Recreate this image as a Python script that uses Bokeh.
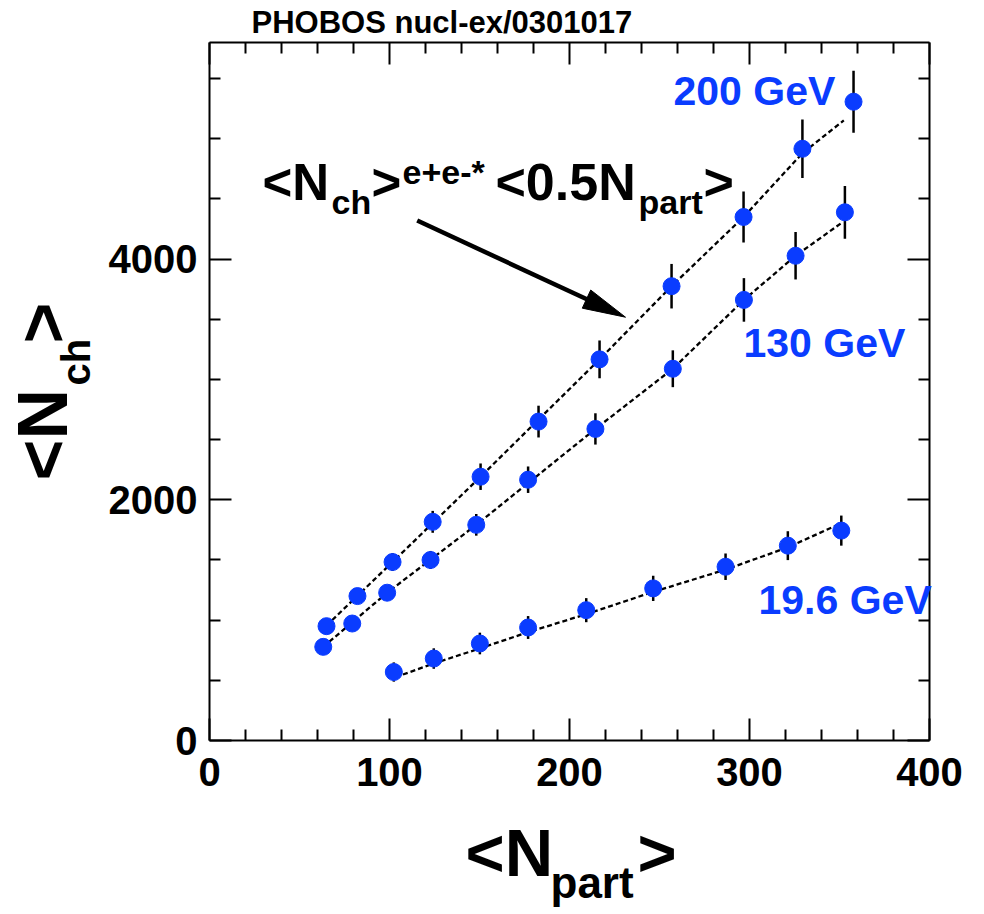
import numpy as np
from bokeh.plotting import figure
from bokeh.models import (Range1d, LinearAxis, FixedTicker, Label,
                          CustomJSTickFormatter)
from bokeh.embed import file_html
from bokeh.resources import INLINE

# ---------------- data ----------------
npart_200 = [65.0, 82.2, 101.7, 124.0, 150.6, 182.8, 216.7, 256.7, 296.7, 329.4, 357.8]
nch_200 = [950, 1200, 1483, 1817, 2192, 2650, 3167, 3775, 4350, 4917, 5308]
err_200 = [48, 60, 74, 91, 110, 132, 157, 185, 212, 243, 257]

npart_130 = [63.2, 79.3, 98.7, 122.8, 148.2, 177.0, 214.4, 257.4, 296.9, 325.6, 353.0]
nch_130 = [778, 972, 1228, 1500, 1792, 2167, 2589, 3089, 3661, 4028, 4389]
err_130 = [40, 50, 62, 75, 90, 110, 130, 153, 181, 197, 219]

npart_196 = [102.4, 124.6, 150.2, 177.0, 209.3, 246.5, 286.7, 321.3, 351.0]
nch_196 = [569, 681, 806, 939, 1083, 1264, 1444, 1619, 1744]
err_196 = [80, 85, 90, 95, 100, 105, 110, 120, 125]

# dashed scaling curves  <Nch>e+e- * <0.5 Npart>
curve_200_x = [65.0, 101.7, 150.6, 216.7, 256.7, 296.7, 329.4, 352.4]
curve_200_y = [955, 1483, 2192, 3167, 3775, 4350, 4880, 5153]
curve_130_x = [63.2, 98.7, 148.2, 214.4, 257.4, 296.9, 325.6, 350.6]
curve_130_y = [778, 1228, 1792, 2589, 3089, 3661, 4028, 4295]
curve_196_x = [103.3, 124.6, 150.2, 177.0, 209.3, 246.5, 286.7, 321.3, 348.7]
curve_196_y = [526, 640, 765, 900, 1050, 1235, 1420, 1605, 1790]

x_major = [0, 100, 200, 300, 400]
x_minor = [20, 40, 60, 80, 120, 140, 160, 180, 220, 240, 260, 280, 320, 340, 360, 380]
y_major = [0, 2000, 4000]
y_minor = [500, 1000, 1500, 2500, 3000, 3500, 4500, 5000, 5500]

X_END, Y_END = 400, 5800
BLUE = "#0a3cff"
FONT = "Liberation Sans"

# ---------------- layout ----------------
W, H = 984, 914
X0_PX, Y0_PX = 209, 740            # canvas pixel of data origin
SX = 720 / X_END                    # px per unit
SY = 698 / Y_END

p = figure(width=W, height=H,
           x_range=Range1d(-X0_PX / SX, (W - X0_PX) / SX),
           y_range=Range1d((Y0_PX - H) / SY, Y0_PX / SY),
           output_backend="svg", toolbar_location=None,
           min_border=0, min_border_left=0, min_border_right=0,
           min_border_top=0, min_border_bottom=0,
           background_fill_color="white", border_fill_color="white")
p.title.visible = False
p.xgrid.visible = False
p.ygrid.visible = False
p.outline_line_color = None


def px2x(px):
    return (px - X0_PX) / SX


def py2y(py):
    return (Y0_PX - py) / SY


def style_axis(ax, major, minor, loc, bounds, labels=True, standoff=10):
    ax.fixed_location = loc
    ax.bounds = bounds
    ax.ticker = FixedTicker(ticks=major, minor_ticks=minor)
    ax.axis_line_color = "black"
    ax.axis_line_width = 2
    ax.major_tick_line_color = "black"
    ax.major_tick_line_width = 2
    ax.minor_tick_line_color = "black"
    ax.minor_tick_line_width = 2
    ax.major_tick_in = 22
    ax.major_tick_out = 0
    ax.minor_tick_in = 11
    ax.minor_tick_out = 0
    ax.axis_label = None
    if labels:
        ax.major_label_text_font = FONT
        ax.major_label_text_font_style = "bold"
        ax.major_label_text_font_size = "40px"
        ax.major_label_text_color = "black"
        ax.major_label_standoff = standoff
    else:
        ax.formatter = CustomJSTickFormatter(code="return ''")
        ax.major_label_text_font_size = "0px"
        ax.major_label_standoff = 0


style_axis(p.xaxis[0], x_major, x_minor, 0, (0, X_END), True, 17)
style_axis(p.yaxis[0], y_major, y_minor, 0, (0, Y_END), True, 12)
top_ax = LinearAxis()
style_axis(top_ax, x_major, x_minor, Y_END, (0, X_END), False)
p.add_layout(top_ax, "above")
right_ax = LinearAxis()
style_axis(right_ax, y_major, y_minor, X_END, (0, Y_END), False)
p.add_layout(right_ax, "right")

# ---------------- curves ----------------
for cx, cy in [(curve_200_x, curve_200_y), (curve_130_x, curve_130_y), (curve_196_x, curve_196_y)]:
    p.line(cx, cy, line_color="black", line_width=2.3, line_dash="5 3")

# ---------------- error bars + markers ----------------
for xs, ys, es in [(npart_200, nch_200, err_200), (npart_130, nch_130, err_130),
                   (npart_196, nch_196, err_196)]:
    xs = np.array(xs); ys = np.array(ys); es = np.array(es)
    p.segment(x0=xs, y0=ys - es, x1=xs, y1=ys + es, line_color="black", line_width=2.5)
    p.scatter(xs, ys, size=17, fill_color=BLUE, line_color=BLUE, marker="circle")


# ---------------- texts ----------------
BASE_SHIFT = 0.42   # baseline correction, in em


def lab(text, px, py, size, color="black", angle=0.0):
    if angle == 0.0:
        py = py - BASE_SHIFT * size
    else:
        px = px - BASE_SHIFT * size
    p.add_layout(Label(x=px2x(px), y=py2y(py), text=text, text_font=FONT,
                       text_font_style="bold", text_font_size=f"{size}px",
                       text_color=color, text_baseline="alphabetic",
                       text_align="left", angle=angle))


lab("PHOBOS nucl-ex/0301017", 251, 35, 31)
lab("200 GeV", 673, 108, 41, BLUE)
lab("130 GeV", 743, 360, 41, BLUE)
lab("19.6 GeV", 758, 617, 41, BLUE)

# annotation <Nch>^{e+e-}*<0.5Npart>
lab("<N", 262, 203, 51)
lab("ch", 331, 216, 34)
lab(">", 371, 203, 51)
lab("e+e-*", 402, 186, 34)
lab("<0.5N", 495, 203, 52)
lab("part", 638, 216, 34)
lab(">", 703, 203, 52)

# axis titles
lab("<N", 465, 880, 67)
lab("part", 550, 900, 44)
lab(">", 637, 880, 67)
lab("<N", 72, 480, 70, angle=np.pi / 2)
lab("ch", 92, 385, 40, angle=np.pi / 2)
lab(">", 72, 343, 70, angle=np.pi / 2)

# ---------------- arrow ----------------
tail = np.array([416.7, 220.0])
tip = np.array([625.0, 316.7])
u = (tip - tail) / np.linalg.norm(tip - tail)
n = np.array([-u[1], u[0]])
head_len, head_half = 43.0, 10.0
base = tip - head_len * u
p.line([px2x(tail[0]), px2x(base[0] + 4 * u[0])], [py2y(tail[1]), py2y(base[1] + 4 * u[1])],
       line_color="black", line_width=4.5)
tri = [tip, base + head_half * n, base - head_half * n]
p.patch([px2x(t[0]) for t in tri], [py2y(t[1]) for t in tri],
        fill_color="black", line_color="black", line_width=1)

open("out.html", "w").write(file_html(p, INLINE))
